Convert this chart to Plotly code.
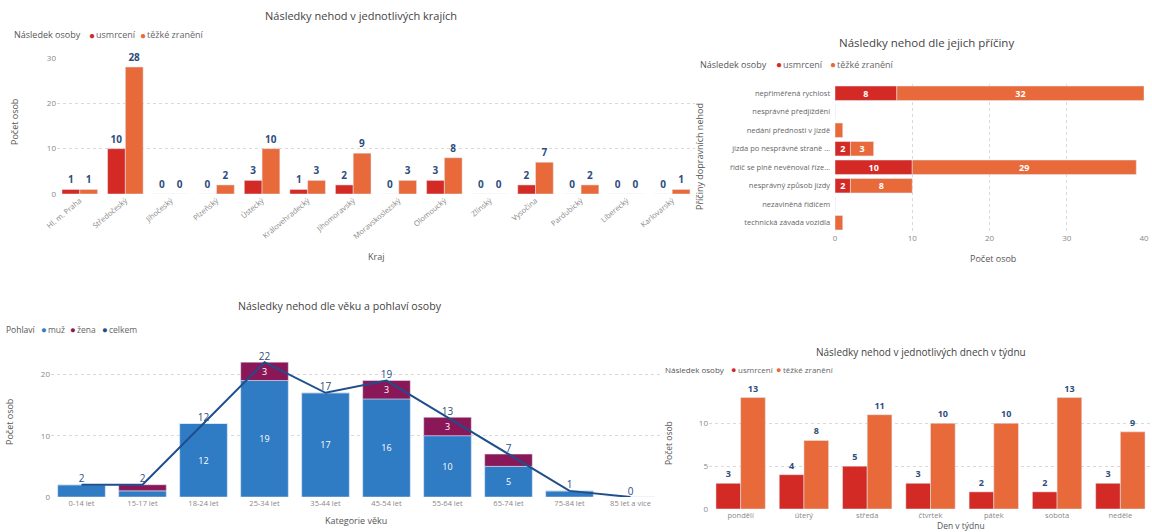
import plotly.graph_objects as go

# ---- data ----
kraje = ["Hl. m. Praha", "Středočeský", "Jihočeský", "Plzeňský", "Ústecký",
         "Královehradecký", "Jihomoravský", "Moravskoslezský", "Olomoucký",
         "Zlínský", "Vysočina", "Pardubický", "Liberecký", "Karlovarský"]
kraje_usmrceni = [1, 10, 0, 0, 3, 1, 2, 0, 3, 0, 2, 0, 0, 0]
kraje_zraneni = [1, 28, 0, 2, 10, 3, 9, 3, 8, 0, 7, 2, 0, 1]

priciny = ["nepřiměřená rychlost", "nesprávné předjíždění", "nedání přednosti v jízdě",
           "jízda po nesprávné straně ...", "řidič se plně nevěnoval říze...",
           "nesprávný způsob jízdy", "nezaviněná řidičem", "technická závada vozidla"]
priciny_usmrceni = [8, 0, 0, 2, 10, 2, 0, 0]
priciny_zraneni = [32, 0, 1, 3, 29, 8, 0, 1]

vek = ["0-14 let", "15-17 let", "18-24 let", "25-34 let", "35-44 let",
       "45-54 let", "55-64 let", "65-74 let", "75-84 let", "85 let a více"]
vek_muz = [2, 1, 12, 19, 17, 16, 10, 5, 1, 0]
vek_zena = [0, 1, 0, 3, 0, 3, 3, 2, 0, 0]
vek_celkem = [2, 2, 12, 22, 17, 19, 13, 7, 1, 0]

dny = ["pondělí", "úterý", "středa", "čtvrtek", "pátek", "sobota", "neděle"]
dny_usmrceni = [3, 4, 5, 3, 2, 2, 3]
dny_zraneni = [13, 8, 11, 10, 10, 13, 9]

# ---- styles ----
FONT = "Open Sans"
RED = "#d42a25"
ORANGE = "#e8693a"
BLUE = "#2f7bc4"
PURPLE = "#8a1858"
NAVY = "#1f4e8c"
LABEL = "#2e4d7c"
GRID = "#d9d9d9"
TICK = "#888888"
TITLE = "#444444"
AXTITLE = "#555555"

W, H = 1152, 532


def px_x(v):
    return v / W


def px_y(v):
    return 1 - v / H


def inside_labels(vals, minimum):
    return [str(v) if v >= minimum else "" for v in vals]


fig = go.Figure()

bold_label = dict(color=LABEL, size=10, family=FONT, weight="bold")
white_bold = dict(color="white", size=9, family=FONT, weight="bold")

# ---- chart 1: regions (grouped) ----
fig.add_trace(go.Bar(x=kraje, y=kraje_usmrceni, marker_color=RED, name="usmrcení",
                     text=kraje_usmrceni, textposition="outside", cliponaxis=False,
                     textangle=0, textfont=bold_label, xaxis="x", yaxis="y"))
fig.add_trace(go.Bar(x=kraje, y=kraje_zraneni, marker_color=ORANGE, name="těžké zranění",
                     text=kraje_zraneni, textposition="outside", cliponaxis=False,
                     textangle=0, textfont=bold_label, xaxis="x", yaxis="y"))

# ---- chart 2: causes (stacked horizontally) ----
fig.add_trace(go.Bar(y=priciny, x=priciny_usmrceni, orientation="h", marker_color=RED,
                     name="usmrcení", offsetgroup="cause",
                     text=inside_labels(priciny_usmrceni, 2), textposition="inside",
                     insidetextanchor="middle", textangle=0, constraintext="none",
                     textfont=white_bold, xaxis="x2", yaxis="y2"))
fig.add_trace(go.Bar(y=priciny, x=priciny_zraneni, orientation="h", marker_color=ORANGE,
                     name="těžké zranění", offsetgroup="cause", base=priciny_usmrceni,
                     text=inside_labels(priciny_zraneni, 2), textposition="inside",
                     insidetextanchor="middle", textangle=0, constraintext="none",
                     textfont=white_bold, xaxis="x2", yaxis="y2"))

# ---- chart 3: age and sex (stacked) with total line ----
fig.add_trace(go.Bar(x=vek, y=vek_muz, marker_color=BLUE, name="muž", offsetgroup="age",
                     text=inside_labels(vek_muz, 3), textposition="inside",
                     insidetextanchor="middle", textangle=0, constraintext="none",
                     textfont=dict(color="white", size=9, family=FONT),
                     xaxis="x3", yaxis="y3"))
fig.add_trace(go.Bar(x=vek, y=vek_zena, marker_color=PURPLE, name="žena", offsetgroup="age",
                     base=vek_muz,
                     text=inside_labels(vek_zena, 3), textposition="inside",
                     insidetextanchor="middle", textangle=0, constraintext="none",
                     textfont=dict(color="white", size=9, family=FONT),
                     xaxis="x3", yaxis="y3"))
fig.add_trace(go.Scatter(x=vek, y=vek_celkem, mode="lines+text", name="celkem",
                         line=dict(color=NAVY, width=2),
                         text=vek_celkem, textposition="top center", cliponaxis=False,
                         textfont=dict(color=LABEL, size=10, family=FONT),
                         xaxis="x3", yaxis="y3"))

# ---- chart 4: days of week (grouped) ----
day_label = dict(color=LABEL, size=9, family=FONT, weight="bold")
fig.add_trace(go.Bar(x=dny, y=dny_usmrceni, marker_color=RED, name="usmrcení",
                     text=dny_usmrceni, textposition="outside", cliponaxis=False,
                     textangle=0, textfont=day_label, xaxis="x4", yaxis="y4"))
fig.add_trace(go.Bar(x=dny, y=dny_zraneni, marker_color=ORANGE, name="těžké zranění",
                     text=dny_zraneni, textposition="outside", cliponaxis=False,
                     textangle=0, textfont=day_label, xaxis="x4", yaxis="y4"))

tickfont = dict(family=FONT, size=8, color=TICK)

fig.update_layout(
    width=W, height=H,
    margin=dict(l=0, r=0, t=0, b=0, pad=0, autoexpand=False),
    paper_bgcolor="white", plot_bgcolor="white",
    font=dict(family=FONT, color=TITLE),
    showlegend=False,
    barmode="group",
    bargap=0.22,
    bargroupgap=0,
    # chart 1
    xaxis=dict(domain=[px_x(57), px_x(695)], type="category", tickangle=-40,
               tickfont=dict(family=FONT, size=7.5, color=TICK),
               showgrid=False, showline=False, ticks="", automargin=False),
    yaxis=dict(domain=[px_y(194), px_y(58)], range=[0, 30], tickvals=[0, 10, 20, 30],
               tickfont=tickfont, showgrid=True, gridcolor=GRID, griddash="dot",
               zeroline=False, showline=False, automargin=False),
    # chart 2
    xaxis2=dict(domain=[px_x(835), px_x(1144)], range=[0, 40],
                tickvals=[0, 10, 20, 30, 40], anchor="y2", tickfont=tickfont,
                ticklabeloverflow="allow",
                showgrid=True, gridcolor=GRID, griddash="dot",
                zeroline=False, showline=False, automargin=False),
    yaxis2=dict(domain=[px_y(232), px_y(84)], type="category", autorange="reversed",
                anchor="x2", tickfont=dict(family=FONT, size=7.5, color="#666"),
                showgrid=False, ticks="", ticksuffix="  ", automargin=False),
    # chart 3
    xaxis3=dict(domain=[px_x(51), px_x(661)], type="category", anchor="y3",
                tickfont=dict(family=FONT, size=7.5, color=TICK),
                showgrid=False, ticks="", automargin=False),
    yaxis3=dict(domain=[px_y(497), px_y(356)], range=[0, 23], tickvals=[0, 10, 20],
                anchor="x3", tickfont=tickfont, showgrid=True, gridcolor=GRID,
                griddash="dot", zeroline=False, automargin=False),
    # chart 4
    xaxis4=dict(domain=[px_x(709), 1.0], type="category", anchor="y4",
                tickfont=dict(family=FONT, size=7.5, color=TICK),
                showgrid=False, ticks="", automargin=False),
    yaxis4=dict(domain=[px_y(509), px_y(389)], range=[0, 14], tickvals=[0, 5, 10],
                anchor="x4", tickfont=tickfont, showgrid=True, gridcolor=GRID,
                griddash="dot", zeroline=False, automargin=False),
)


def note(text, x, y, size, color, angle=0, xanchor="center"):
    fig.add_annotation(text=text, x=px_x(x), y=px_y(y), xref="paper", yref="paper",
                       xanchor=xanchor, yanchor="middle", showarrow=False,
                       textangle=angle, font=dict(family=FONT, size=size, color=color))


# ---- chart titles ----
note("Následky nehod v jednotlivých krajích", 361, 15, 11, TITLE)
note("Následky nehod dle jejich příčiny", 926, 43, 11.5, TITLE)
note("Následky nehod dle věku a pohlaví osoby", 340, 306, 10.6, TITLE)
note("Následky nehod v jednotlivých dnech v týdnu", 921, 352, 10, TITLE)

# ---- axis titles ----
note("Kraj", 376, 256, 9, AXTITLE)
note("Počet osob", 14, 122, 9, AXTITLE, -90)
note("Počet osob", 993, 258, 9, AXTITLE)
note("Příčiny dopravních nehod", 699, 157, 9, AXTITLE, -90)
note("Kategorie věku", 356, 520, 9, AXTITLE)
note("Počet osob", 9, 422, 9, AXTITLE, -90)
note("Den v týdnu", 961, 525, 8.5, AXTITLE)
note("Počet osob", 668, 443, 8.5, AXTITLE, -90)

# ---- legends: title, then coloured dot + series name ----
legends = [
    (35, 9, ("Následek osoby", 12), [(RED, "usmrcení", 91), (ORANGE, "těžké zranění", 142)]),
    (64, 9, ("Následek osoby", 698), [(RED, "usmrcení", 778), (ORANGE, "těžké zranění", 832)]),
    (329, 8.5, ("Pohlaví", 4), [(BLUE, "muž", 43), (PURPLE, "žena", 72), (NAVY, "celkem", 104)]),
    (369, 8, ("Následek osoby", 663), [(RED, "usmrcení", 733), (ORANGE, "těžké zranění", 778)]),
]
for y, size, (title, tx), items in legends:
    note(title, tx, y, size, "#555555", xanchor="left")
    for color, name, dx in items:
        note("●", dx - 4, y, size + 1, color, xanchor="left")
        note(name, dx + 3, y, size, "#666666", xanchor="left")

fig.write_html("out.html")
